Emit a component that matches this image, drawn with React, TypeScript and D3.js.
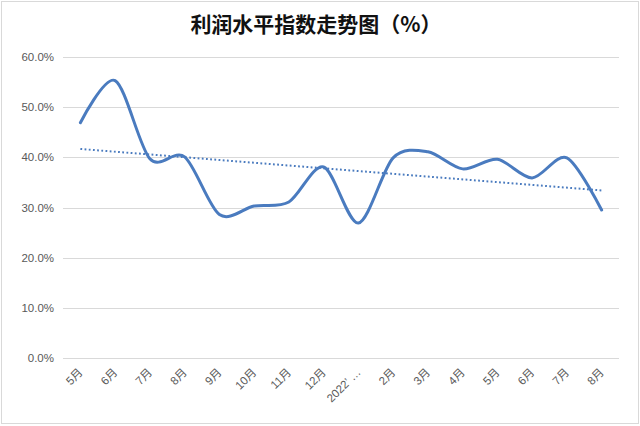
import React from "react";
import * as d3 from "d3";

const categories = ["5月", "6月", "7月", "8月", "9月", "10月", "11月", "12月", "2022’ …", "2月", "3月", "4月", "5月", "6月", "7月", "8月"];
const values = [46.9, 55.3, 39.7, 40.1, 28.6, 30.3, 31.1, 38.1, 26.9, 39.9, 41.1, 37.7, 39.6, 35.9, 39.9, 29.5];
const yTicks = [0, 10, 20, 30, 40, 50, 60];
const title = "利润水平指数走势图（%）";

const W = 640, H = 426;
const left = 63, right = 619, top = 57, bottom = 358;

export default function App() {
  const x = d3.scaleBand<number>().domain(d3.range(categories.length)).range([left, right]);
  const cx = (i: number) => (x(i) as number) + x.bandwidth() / 2;
  const y = d3.scaleLinear().domain([0, 60]).range([bottom, top]);

  const line = d3.line<number>().x((_, i) => cx(i)).y((v) => y(v)).curve(d3.curveCardinal.tension(0.1));

  // linear trendline via least squares
  const n = values.length;
  const xm = d3.mean(d3.range(n)) as number;
  const ym = d3.mean(values) as number;
  let sxy = 0, sxx = 0;
  values.forEach((v, i) => { sxy += (i - xm) * (v - ym); sxx += (i - xm) * (i - xm); });
  const slope = sxy / sxx;
  const icpt = ym - slope * xm;
  const t0 = icpt, t1 = icpt + slope * (n - 1);

  return (
    <svg width={W} height={H} style={{ position: "absolute", left: 0, top: 0 }}>
      <rect x={0} y={0} width={W} height={H} fill="#fff" />
      <rect x={1.5} y={1.5} width={W - 3} height={H - 4} fill="none" stroke="#d9d9d9" strokeWidth={1} />
      <text x={316} y={32} textAnchor="middle" fontFamily="'Noto Sans CJK SC'" fontWeight="bold" fontSize={21} fill="#111">{title}</text>
      {yTicks.map((t) => (
        <g key={t}>
          <line x1={left} x2={right} y1={Math.round(y(t)) + 0.5} y2={Math.round(y(t)) + 0.5} stroke="#d9d9d9" strokeWidth={1} />
          <text x={54} y={y(t) + 4} textAnchor="end" fontFamily="'Liberation Sans', sans-serif" fontSize={11.5} fill="#595959">{t.toFixed(1) + "%"}</text>
        </g>
      ))}
      {categories.map((c, i) => (
        <text key={i} transform={`translate(${cx(i) + 3},${373}) rotate(-45)`} textAnchor="end" fontFamily="'Liberation Sans', 'Noto Sans CJK SC', sans-serif" fontSize={11.5} fill="#595959">{c}</text>
      ))}
      <line x1={cx(0)} x2={cx(n - 1)} y1={y(t0)} y2={y(t1)} stroke="#4a7bbf" strokeWidth={2} strokeDasharray="1.8 2.4" />
      <path d={line(values) as string} fill="none" stroke="#4a7bbf" strokeWidth={3} strokeLinecap="round" strokeLinejoin="round" />
    </svg>
  );
}
